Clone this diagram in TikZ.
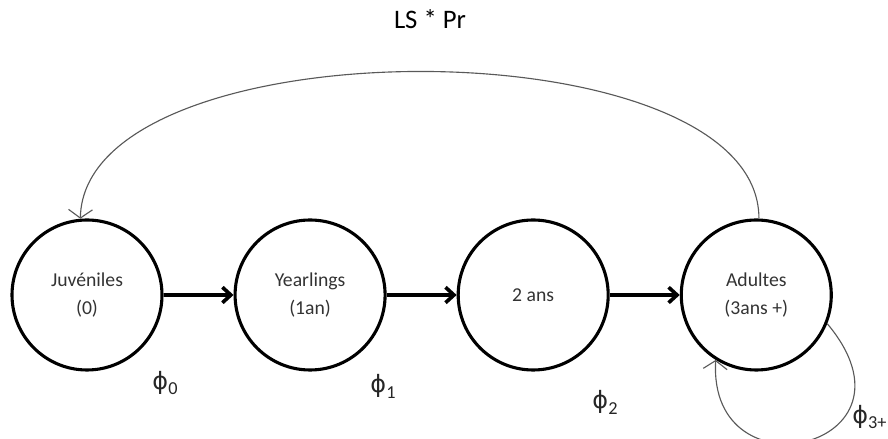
\documentclass[tikz,border=0pt]{standalone}
\usepackage{fontspec}
\setmainfont{Carlito}
\newfontfamily\grfont{DejaVu Sans}
\usetikzlibrary{positioning,arrows.meta}
\newcommand{\phisub}[1]{{\fontsize{17}{17}\grfont ϕ}{\fontsize{13}{13}\selectfont\raisebox{-4pt}{#1}}}

\begin{document}
\begin{tikzpicture}[
    stage/.style={circle, draw=black, line width=2.2pt, minimum size=3.75cm, align=center, text=black!80, font=\fontsize{14}{20}\selectfont},
    trans/.style={-{Straight Barb[length=6pt,width=11pt]}, line width=2.6pt},
    retour/.style={-{Straight Barb[length=6pt,width=17pt]}, line width=0.8pt, draw=black!65},
    plabel/.style={text=black!85}
]
\useasboundingbox (0,0) rectangle (22.2,10.975);

% stades
\node[stage] (juv) at (2.175,3.6) {Juvéniles\\(0)};
\node[stage, right=1.75cm of juv] (yearl) {Yearlings\\(1an)};
\node[stage, right=1.75cm of yearl] (deux) {2 ans};
\node[stage, right=1.75cm of deux] (adu) {Adultes\\(3ans +)};

% survies
\draw[trans] (juv) -- (yearl);
\draw[trans] (yearl) -- (deux);
\draw[trans] (deux) -- (adu);

% reproduction et survie adulte
\draw[retour] (adu.88) .. controls +(0,4.9) and +(0.1,4.9) .. (juv.95);
\draw[retour] (adu.-22) .. controls +(2.6,-3.1) and +(-0.2,-3.5) .. (adu.-122);

\node[font=\fontsize{19}{22}\selectfont] (ls) at (10.75,10.5) {LS * Pr};
\node[plabel] (p0) at (4.125,1.4) {\phisub{0}};
\node[plabel] (p1) at (9.575,1.32) {\phisub{1}};
\node[plabel] (p2) at (15.125,0.92) {\phisub{2}};
\node[plabel, anchor=west, inner sep=0pt] (p3) at (21.3,0.55) {\phisub{3+}};

\end{tikzpicture}
\end{document}
